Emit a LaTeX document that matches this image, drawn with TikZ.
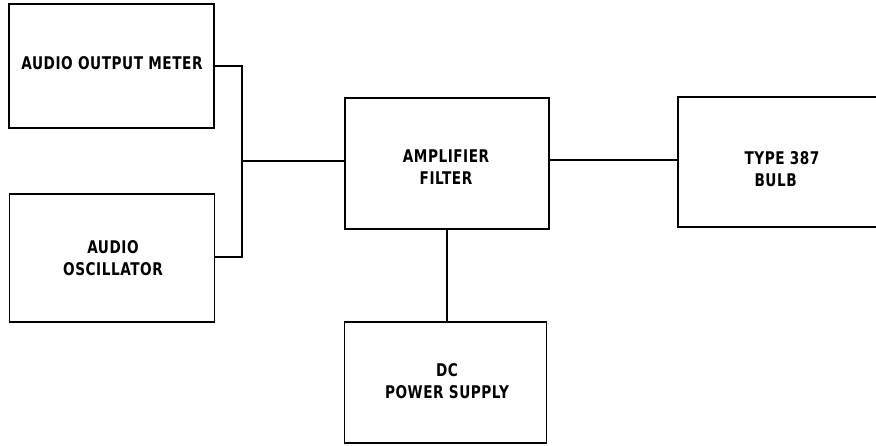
\documentclass[tikz,border=0pt]{standalone}
\usepackage{fontspec}
\setmainfont{DejaVu Sans}[FakeStretch=0.78,LetterSpace=3]
\begin{document}
\begin{tikzpicture}[x=1pt,y=-1pt,
  blk/.style={draw=black,line width=1.5pt,rectangle,inner sep=0pt},
  lbl/.style={font=\fontsize{17.5}{22}\selectfont\bfseries,align=center,inner sep=0pt},
  wire/.style={draw=black,line width=1.5pt}]
\clip (0,0) rectangle (876,446);
\fill[white] (0,0) rectangle (876,446);
% boxes
\node[blk,minimum width=205pt,minimum height=124pt] (meter) at (111.5,66) {};
\node[blk,minimum width=205pt,minimum height=128pt] (osc) at (112,258) {};
\node[blk,minimum width=204pt,minimum height=131pt] (amp) at (447,163.5) {};
\node[blk,minimum width=210pt,minimum height=130pt] (bulb) at (783,162) {};
\node[blk,minimum width=202pt,minimum height=121pt] (dc) at (445.5,382.5) {};
% labels
\node[lbl] (tmeter) at (112,63) {AUDIO OUTPUT METER};
\node[lbl] (tosc) at (113,258.5) {AUDIO\\OSCILLATOR};
\node[lbl] (tamp) at (446,167.5) {AMPLIFIER\\FILTER};
\node[lbl,align=left] (tbulb) at (782,169) {TYPE 387\\\hspace*{10pt}BULB};
\node[lbl] (tdc) at (447,381.5) {DC\\POWER SUPPLY};
% connectors
\coordinate (j) at (242,161);
\draw[wire] (meter.east |- 0,66) -| (j) |- (osc.east |- 0,257);
\draw[wire] (j) -- (amp.west |- j);
\draw[wire] (amp.east |- 0,160) -- (bulb.west |- 0,160);
\draw[wire] (amp.south -| 447,0) -- (dc.north -| 447,0);
\end{tikzpicture}
\end{document}
